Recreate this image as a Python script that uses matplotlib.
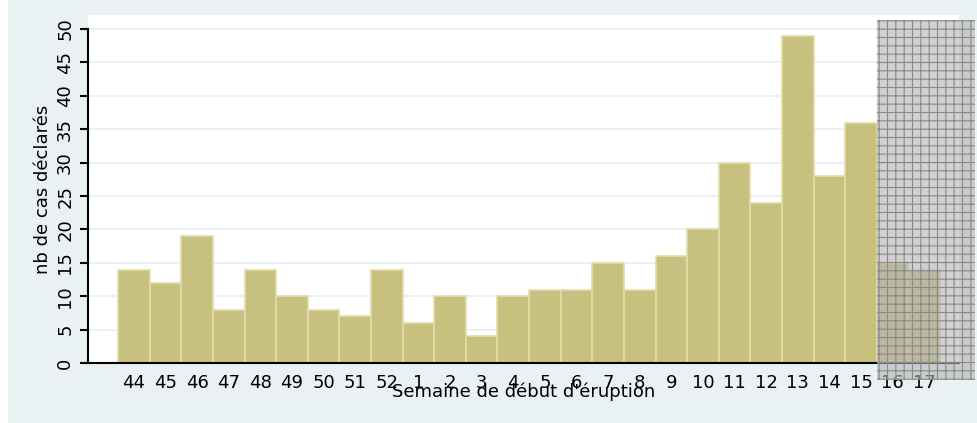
import matplotlib.pyplot as plt
from matplotlib.patches import Rectangle

# weekly counts of declared cases
weeks = ["44", "45", "46", "47", "48", "49", "50", "51", "52",
         "1", "2", "3", "4", "5", "6", "7", "8", "9", "10",
         "11", "12", "13", "14", "15", "16", "17"]
cases = [14, 12, 19, 8, 14, 10, 8, 7, 14,
         6, 10, 4, 10, 11, 11, 15, 11, 16, 20,
         30, 24, 49, 28, 36, 15, 14]
# weeks still incomplete (greyed out)
shaded_weeks = ["16", "17"]
yticks = [0, 5, 10, 15, 20, 25, 30, 35, 40, 45, 50]

plt.rcParams['font.family'] = ['DejaVu Sans']
fs = 13

fig = plt.figure(figsize=(9.78, 4.23), dpi=100, facecolor="white")
# light outer background like stata graph region
fig.add_artist(Rectangle((8 / 978, 0), 1, 1, transform=fig.transFigure,
                         facecolor="#eaf1f3", edgecolor="none", zorder=-10))

ax = fig.add_axes([0.090, 0.1418, 0.8906, 0.8227])
ax.set_zorder(1)
ax.set_facecolor("white")

x = list(range(len(weeks)))
ax.bar(x, cases, width=1.0, color="#c8c07f", edgecolor="#e2dcaa", linewidth=1.2, zorder=2)

ax.set_xlim(-1.45, 26.1)
ax.set_ylim(0, 52.1)
ax.set_xticks(x)
ax.set_xticklabels(weeks, fontsize=fs)
ax.set_yticks(yticks)
ax.set_yticklabels([str(v) for v in yticks], fontsize=fs, rotation=90, va="center")
ax.tick_params(axis="x", length=0, pad=8)
ax.tick_params(axis="y", length=6, width=1.5, pad=4)

ax.grid(axis="y", color="#e6eff2", linewidth=1.2, zorder=1)
ax.set_axisbelow(True)

for side in ["top", "right"]:
    ax.spines[side].set_visible(False)
ax.spines["left"].set_linewidth(1.5)
ax.spines["bottom"].set_linewidth(1.5)
ax.spines["left"].set_bounds(0, 50)

ax.set_ylabel("nb de cas déclarés", fontsize=fs, labelpad=3)
ax.set_xlabel("Semaine de début d'éruption", fontsize=fs, labelpad=-7)

# hatched overlay on incomplete weeks
start = weeks.index(shaded_weeks[0]) - 0.5
end = weeks.index(shaded_weeks[-1]) + 1.6
plt.rcParams['hatch.linewidth'] = 0.8
shade = Rectangle((start, -0.049), end - start, 1.035,
                  transform=ax.get_xaxis_transform(), clip_on=False,
                  facecolor=(0.70, 0.70, 0.70, 0.6), edgecolor="#888888",
                  hatch="++", linewidth=0, zorder=5)
ax.add_patch(shade)

fig.savefig("out.png", dpi=100, facecolor=fig.get_facecolor())
